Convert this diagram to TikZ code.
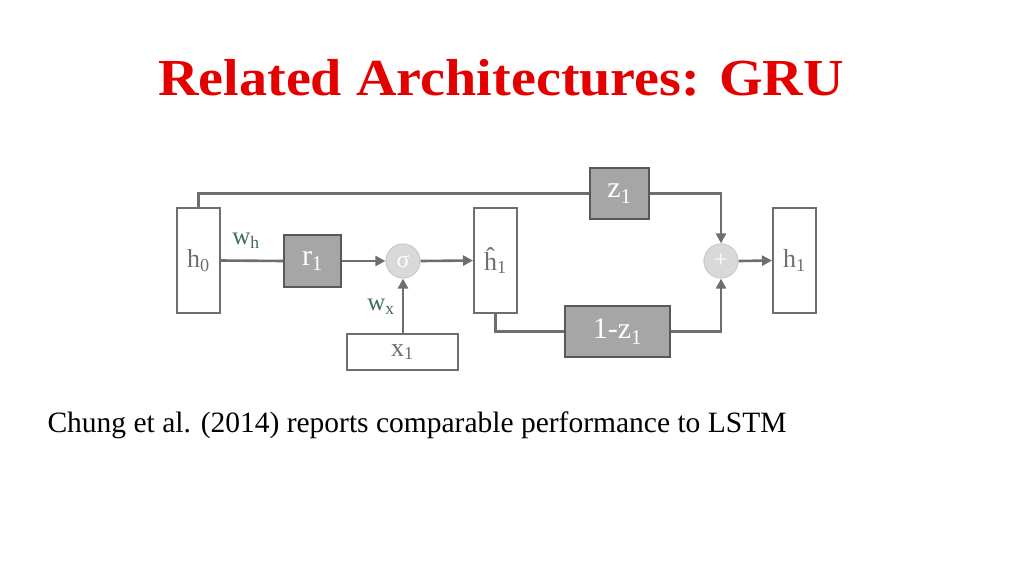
\documentclass[tikz,border=0pt]{standalone}
\usepackage{fontspec}
\setmainfont{Liberation Serif}
\usetikzlibrary{arrows.meta}
\definecolor{ln}{HTML}{6E6E6E}
\definecolor{gbox}{HTML}{A6A6A6}
\definecolor{wgt}{HTML}{3E6B5E}
\begin{document}
\begin{tikzpicture}[x=1pt,y=-1pt,
  wbox/.style={draw=ln,line width=2pt,fill=white,inner sep=0pt,font=\fontsize{26}{28}\selectfont,text=ln},
  gbx/.style={draw=gray!70!black,line width=1.5pt,fill=gbox,inner sep=0pt,text=white,font=\fontsize{30}{32}\selectfont},
  circ/.style={circle,draw=gray!40,line width=1.2pt,fill=gray!30,minimum size=34pt,inner sep=0pt,text=white,font=\fontsize{24}{26}\selectfont},
  conn/.style={draw=ln,line width=2.6pt},
  arr/.style={conn,-{Triangle[length=10pt,width=10pt]}}]
\useasboundingbox (0,0) rectangle (1024,576);
\node[font=\fontsize{52}{56}\bfseries\selectfont,text=red!90!black] (title) at (501,78) {\scalebox{1.08}[1]{Related Architectures: GRU}};
\node[wbox,minimum width=43pt,minimum height=105pt] (h0) at (198.5,260.5) {h\textsubscript{0}};
\node[gbx,minimum width=57pt,minimum height=52pt] (r1) at (312.5,261) {r\textsubscript{1}};
\node[circ] (sig) at (403,261) {σ};
\node[wbox,minimum width=43pt,minimum height=105pt] (hh) at (495.5,260.5) {ĥ\textsubscript{1}};
\node[gbx,minimum width=59pt,minimum height=51pt] (z1) at (619.5,193.5) {z\textsubscript{1}};
\node[gbx,minimum width=105pt,minimum height=51pt] (omz) at (617.5,331.5) {1-z\textsubscript{1}};
\node[circ] (plus) at (721,261) {+};
\node[wbox,minimum width=43pt,minimum height=105pt] (h1) at (794.5,260.5) {h\textsubscript{1}};
\node[wbox,minimum width=111pt,minimum height=36pt] (x1) at (402.5,352) {x\textsubscript{1}};
\node[text=wgt,font=\fontsize{25}{27}\selectfont] (wh) at (246,241) {w\textsubscript{h}};
\node[text=wgt,font=\fontsize{25}{27}\selectfont] (wx) at (381,307) {w\textsubscript{x}};
\draw[conn] (h0.east) -- (r1.west);
\draw[arr] (r1.east) -- (sig.west);
\draw[arr] (sig.east) -- (hh.west);
\draw[arr] (x1.north -| sig) -- (sig.south);
\draw[arr] (h0.north) |- (z1.west) (z1.east) -| (plus.north);
\draw[conn] (hh.south) |- (omz.west);
\draw[arr] (omz.east) -| (plus.south);
\draw[arr] (plus.east) -- (h1.west);
\node[anchor=west,font=\fontsize{29.5}{32}\selectfont] (cap) at (44,425) {Chung et al. (2014) reports comparable performance to LSTM};
\end{tikzpicture}
\end{document}
